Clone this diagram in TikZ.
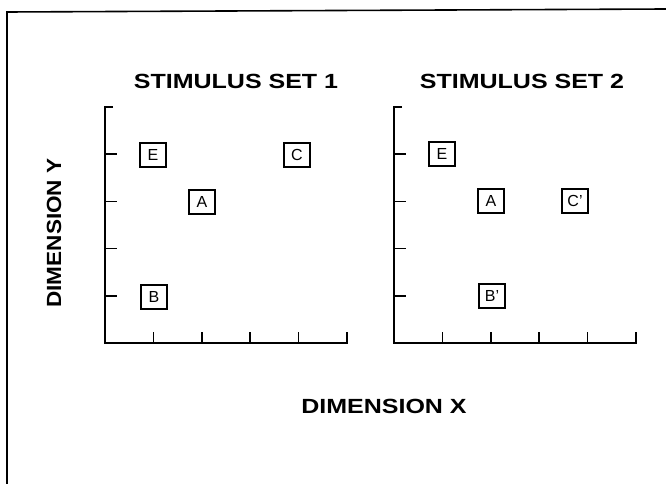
\documentclass[tikz,border=0pt]{standalone}
\usepackage{fontspec}
\setmainfont{Liberation Sans}
\newfontfamily\headfont[FakeStretch=1.22]{Liberation Sans Bold}
\newfontfamily\sidefont[FakeStretch=1.10]{Liberation Sans Bold}
\begin{document}
\begin{tikzpicture}[x=1pt,y=-1pt,
  frameline/.style={line width=1.6pt},
  axisline/.style={line width=1.5pt},
  point/.style={draw,line width=1.5pt,minimum width=26pt,minimum height=24pt,
    inner sep=0pt,font=\fontsize{16}{16}\selectfont},
  headlabel/.style={font=\headfont\fontsize{20.5}{20}\selectfont,inner sep=0pt},
  sidelabel/.style={font=\sidefont\fontsize{20.5}{20}\selectfont,inner sep=0pt}]
\useasboundingbox (0,0) rectangle (666,484);

% outer frame (top and left edges)
\coordinate (ftl) at (7,12);
\coordinate (ftr) at (666,9);
\coordinate (fbl) at (7,484);
\draw[frameline] (ftr) -- (ftl) -- (fbl);

% axes of both panels with their tick marks
\foreach \ox/\name in {105/one,394/two}{
  \coordinate (\name-o) at (\ox,343);
  \coordinate (\name-top) at (\ox,107);
  \coordinate (\name-end) at (\ox+242,343);
  \coordinate (\name-endtick) at (\ox+242,332);
  \draw[axisline] (\name-top) ++(8,0) -- (\name-top) -- (\name-o) -- (\name-end) -- (\name-endtick);
  \foreach \k in {1,...,4}{
    \coordinate (\name-yt\k) at (\ox,343-47.2*\k);
    \draw[axisline] (\name-yt\k) -- ++(12,0);
    \coordinate (\name-xt\k) at (\ox+48.4*\k,343);
    \draw[axisline] (\name-xt\k) -- ++(0,-11);
  }
}

% panel titles
\node[headlabel] (title1) at (236,81) {STIMULUS SET 1};
\node[headlabel] (title2) at (522,81) {STIMULUS SET 2};

% stimulus set 1
\node[point] (e1) at (153,155) {E};
\node[point] (c1) at (297,155) {C};
\node[point] (a1) at (202,202) {A};
\node[point] (b1) at (154,297) {B};

% stimulus set 2
\node[point] (e2) at (442,154) {E};
\node[point] (a2) at (491,201) {A};
\node[point] (c2) at (575,201) {C'};
\node[point] (b2) at (492,296) {B'};

% axis labels
\node[headlabel] (dimx) at (384,406) {DIMENSION X};
\node[sidelabel,rotate=90] (dimy) at (54,233) {DIMENSION Y};
\end{tikzpicture}
\end{document}
